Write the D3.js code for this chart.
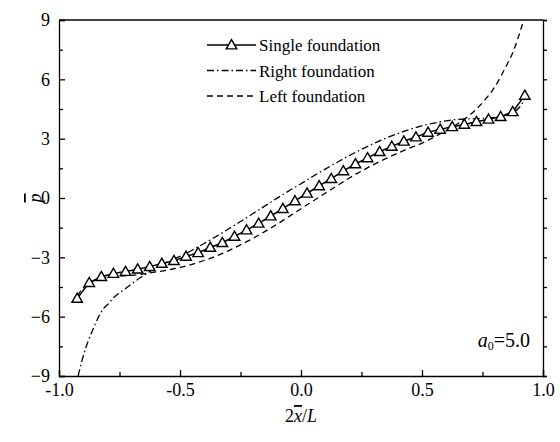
<!DOCTYPE html>
<html>
<head>
<meta charset="utf-8">
<script src="https://cdn.jsdelivr.net/npm/d3@7"></script>
<style>
  body { margin: 0; background: #fff; }
  .axis path, .axis line { stroke: #000; stroke-width: 1.3; }
  .axis text { font-size: 18px; fill: #000; }
</style>
</head>
<body>
<div id="chart"></div>
<script>
// chart size
var width = 560,
    height = 442

// single foundation (triangles)
const singleX = [-0.925,-0.875,-0.825,-0.775,-0.725,-0.675,-0.625,-0.575,-0.525,-0.475,
  -0.425,-0.375,-0.325,-0.275,-0.225,-0.175,-0.125,-0.075,-0.025,0.025,
  0.075,0.125,0.175,0.225,0.275,0.325,0.375,0.425,0.475,0.525,
  0.575,0.625,0.675,0.725,0.775,0.825,0.875,0.925]
const singleP = [-5.08,-4.28,-3.98,-3.82,-3.72,-3.60,-3.47,-3.31,-3.17,-2.95,
  -2.77,-2.50,-2.26,-1.94,-1.62,-1.28,-0.91,-0.54,-0.15,0.24,
  0.61,0.98,1.37,1.72,2.03,2.34,2.61,2.87,3.08,3.32,
  3.47,3.60,3.72,3.86,3.98,4.11,4.36,5.19]

// right foundation (dash-dot)
const rightX = [-0.921,-0.91,-0.90,-0.88,-0.86,-0.84,-0.82,-0.80,-0.775,-0.75,-0.725,-0.70,
  -0.675,-0.65,-0.625,-0.60,-0.55,-0.50,-0.45,-0.40,-0.35,-0.30,-0.25,-0.20,-0.15,-0.10,
  -0.05,0.00,0.05,0.10,0.15,0.20,0.25,0.30,0.35,0.40,0.45,0.50,0.55,0.60,0.65,0.70,
  0.75,0.80,0.85,0.875,0.90,0.925]
const rightP = [-9.0,-8.45,-8.0,-7.25,-6.65,-6.1,-5.65,-5.4,-5.05,-4.8,-4.58,-4.35,
  -4.12,-3.92,-3.72,-3.55,-3.22,-2.95,-2.64,-2.3,-1.94,-1.57,-1.19,-0.8,-0.41,-0.02,
  0.36,0.72,1.1,1.46,1.81,2.15,2.46,2.75,3.02,3.26,3.47,3.65,3.79,3.9,3.98,4.0,
  4.02,4.08,4.2,4.32,4.55,5.0]

// left foundation (dashed)
const leftX = [-0.925,-0.90,-0.875,-0.85,-0.825,-0.80,-0.75,-0.70,-0.65,-0.60,-0.55,-0.50,
  -0.45,-0.40,-0.35,-0.30,-0.25,-0.20,-0.15,-0.10,-0.05,0.00,0.05,0.10,0.15,0.20,
  0.25,0.30,0.35,0.40,0.45,0.50,0.55,0.60,0.65,0.70,0.75,0.80,0.85,0.875,0.90,0.921]
const leftP = [-4.95,-4.55,-4.3,-4.15,-4.06,-4.0,-3.95,-3.91,-3.84,-3.74,-3.64,-3.51,
  -3.35,-3.16,-2.93,-2.67,-2.37,-2.05,-1.7,-1.33,-0.94,-0.54,-0.15,0.24,0.63,1.01,
  1.36,1.69,1.99,2.27,2.53,2.77,3.08,3.4,3.78,4.22,4.82,5.6,6.72,7.35,8.2,9.05]

const seriesNames = ["Single foundation", "Right foundation", "Left foundation"]

const xTicks = [-1.0, -0.5, 0.0, 0.5, 1.0]
const xMinor = [-0.75, -0.25, 0.25, 0.75]
const yTicks = [-9, -6, -3, 0, 3, 6, 9]
const yMinor = [-7.5, -4.5, -1.5, 1.5, 4.5, 7.5]

const margin = {top: 20, right: 17, bottom: 66, left: 59}
const serif = "Liberation Serif"

const svg = d3.select("#chart")
  .append("svg")
    .attr("width", width)
    .attr("height", height)
    .attr("font-family", serif)

// scales
const x = d3.scaleLinear()
  .domain([-1, 1])
  .range([margin.left, width - margin.right])
const y = d3.scaleLinear()
  .domain([-9, 9])
  .range([height - margin.bottom, margin.top])

svg.append("clipPath")
    .attr("id", "plot-clip")
  .append("rect")
    .attr("x", x(-1))
    .attr("y", y(9))
    .attr("width", x(1) - x(-1))
    .attr("height", y(-9) - y(9))

// axes, ticks pointing inward
const fmtX = d => d.toFixed(1)
svg.append("g")
    .attr("class", "axis")
    .attr("transform", `translate(0,${y(-9)})`)
  .call(d3.axisBottom(x).tickValues(xTicks).tickSize(-6).tickPadding(7).tickFormat(fmtX))
  .attr("font-family", serif)
svg.append("g")
    .attr("class", "axis")
    .attr("transform", `translate(0,${y(-9)})`)
  .call(d3.axisBottom(x).tickValues(xMinor).tickSize(-4).tickFormat(""))
  .call(g => g.select(".domain").remove())

svg.append("g")
    .attr("class", "axis")
    .attr("transform", `translate(${x(-1)},0)`)
  .call(d3.axisLeft(y).tickValues(yTicks).tickSize(-6).tickPadding(9).tickFormat(d3.format("d")))
  .attr("font-family", serif)
svg.append("g")
    .attr("class", "axis")
    .attr("transform", `translate(${x(-1)},0)`)
  .call(d3.axisLeft(y).tickValues(yMinor).tickSize(-4).tickFormat(""))
  .call(g => g.select(".domain").remove())

// right axis: short outward ticks
svg.append("g")
    .attr("class", "axis")
    .attr("transform", `translate(${x(1)},0)`)
  .call(d3.axisRight(y).tickValues(yTicks.concat(yMinor)).tickSize(4).tickFormat(""))

// top border
svg.append("line")
    .attr("x1", x(-1)).attr("x2", x(1))
    .attr("y1", y(9)).attr("y2", y(9))
    .attr("stroke", "#000").attr("stroke-width", 1.3)

// line generators
const smooth = d3.line()
  .x(d => x(d[0]))
  .y(d => y(d[1]))
  .curve(d3.curveMonotoneX)
const straight = d3.line()
  .x(d => x(d[0]))
  .y(d => y(d[1]))

const plot = svg.append("g").attr("clip-path", "url(#plot-clip)")

plot.append("path")
    .datum(d3.zip(leftX, leftP))
    .attr("d", smooth)
    .attr("fill", "none")
    .attr("stroke", "#000")
    .attr("stroke-width", 1.3)
    .attr("stroke-dasharray", "6,4")

plot.append("path")
    .datum(d3.zip(rightX, rightP))
    .attr("d", smooth)
    .attr("fill", "none")
    .attr("stroke", "#000")
    .attr("stroke-width", 1.3)
    .attr("stroke-dasharray", "7,3,1.5,3")

plot.append("path")
    .datum(d3.zip(singleX, singleP))
    .attr("d", straight)
    .attr("fill", "none")
    .attr("stroke", "#000")
    .attr("stroke-width", 1.5)

const tri = d3.symbol().type(d3.symbolTriangle).size(48)

svg.append("g")
  .selectAll("path")
  .data(d3.zip(singleX, singleP))
  .join("path")
    .attr("transform", d => `translate(${x(d[0])},${y(d[1]) + 0.8})`)
    .attr("d", tri)
    .attr("fill", "#fff")
    .attr("stroke", "#000")
    .attr("stroke-width", 1.4)

// legend
const legend = svg.append("g")
  .attr("transform", "translate(207,45)")
const dashes = [null, "7,3,1.5,3", "6,4"]
seriesNames.forEach(function(name, i) {
  const row = legend.append("g").attr("transform", `translate(0,${i * 25.5})`)
  row.append("line")
      .attr("x1", 0).attr("x2", 49)
      .attr("stroke", "#000")
      .attr("stroke-width", i === 0 ? 1.5 : 1.3)
      .attr("stroke-dasharray", dashes[i])
  if (i === 0) {
    row.append("path")
        .attr("transform", "translate(24.5,0.8)")
        .attr("d", tri)
        .attr("fill", "#fff")
        .attr("stroke", "#000")
        .attr("stroke-width", 1.4)
  }
  row.append("text")
      .attr("x", 52)
      .attr("y", 6)
      .attr("font-size", 17)
      .text(name)
})

// axis titles
const xt = svg.append("text")
    .attr("x", x(0))
    .attr("y", 422)
    .attr("text-anchor", "middle")
    .attr("font-size", 18)
xt.append("tspan").text("2")
xt.append("tspan").attr("font-style", "italic").style("text-decoration", "overline").text("x")
xt.append("tspan").text("/")
xt.append("tspan").attr("font-style", "italic").text("L")

svg.append("text")
    .attr("transform", `translate(41,${y(0)}) rotate(-90)`)
    .attr("text-anchor", "middle")
    .attr("font-size", 18)
    .attr("font-style", "italic")
    .style("text-decoration", "overline")
    .text("p")

// annotation
const note = svg.append("text")
    .attr("x", 530)
    .attr("y", 347)
    .attr("text-anchor", "end")
    .attr("font-size", 20)
note.append("tspan").attr("font-style", "italic").text("a")
note.append("tspan").attr("font-size", 12).attr("dy", 3).text("0")
note.append("tspan").attr("dy", -3).text("=5.0")
</script>
</body>
</html>
